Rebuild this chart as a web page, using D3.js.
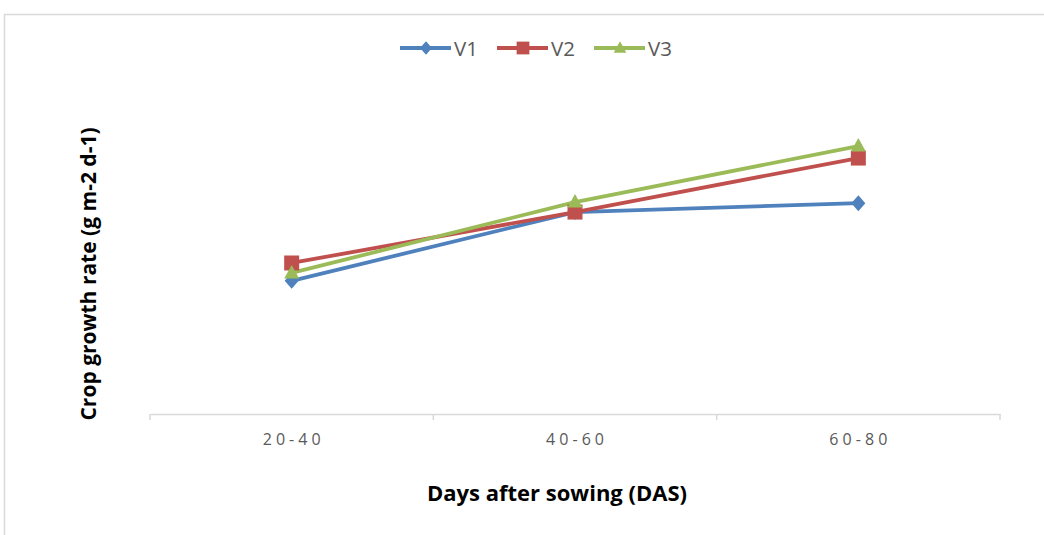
<!DOCTYPE html>
<html>
<head>
<meta charset="utf-8">
<script src="https://cdn.jsdelivr.net/npm/d3@7"></script>
<style>
  body { margin: 0; background: #fff; }
  svg { display: block; }
</style>
</head>
<body>
<div id="chart"></div>
<script>
// chart data
const categories = ["20-40", "40-60", "60-80"];
const seriesNames = ["V1", "V2", "V3"];
const v1Values = [3.87, 5.87, 6.13];
const v2Values = [4.39, 5.87, 7.44];
const v3Values = [4.10, 6.16, 7.79];
const seriesColors = ["#4F81BD", "#C0504D", "#9BBB59"];

const width = 1044, height = 535;
const margin = { top: 70, right: 44, bottom: 121, left: 150 };
const innerWidth = width - margin.left - margin.right;
const innerHeight = height - margin.top - margin.bottom;

const series = seriesNames.map((name, i) => ({
    name: name,
    color: seriesColors[i],
    values: [v1Values, v2Values, v3Values][i]
}));

const svg = d3.select("#chart").append("svg")
    .attr("width", width)
    .attr("height", height);

// chart frame (partly cut off in the original)
svg.append("path")
    .attr("d", `M4.5,${height} V14.5 H${width}`)
    .attr("fill", "none")
    .attr("stroke", "#d9d9d9")
    .attr("stroke-width", 1.5);

const g = svg.append("g")
    .attr("transform", `translate(${margin.left},${margin.top})`);

// scales
const xScale = d3.scaleBand()
    .domain(categories)
    .range([0, innerWidth]);

const yScale = d3.scaleLinear()
    .domain([0, 10])
    .range([innerHeight, 0]);

// x axis
const xAxis = d3.axisBottom(xScale).tickSize(0).tickPadding(20);
const xg = g.append("g")
    .attr("transform", `translate(0,${innerHeight})`)
    .call(xAxis);
xg.select(".domain").attr("stroke", "#d9d9d9").attr("stroke-width", 1.5);
// Excel spreads the tick label glyphs out
xg.selectAll("text")
    .attr("fill", "#595959")
    .attr("textLength", 58)
    .attr("lengthAdjust", "spacing")
    .style("font-family", "'Open Sans', sans-serif")
    .style("font-size", "16px");

// tick marks between categories
const tickPos = [0].concat(categories.map(c => xScale(c) + xScale.bandwidth()));
g.selectAll(".cat-tick")
    .data(tickPos)
    .enter().append("line")
    .attr("class", "cat-tick")
    .attr("x1", d => d).attr("x2", d => d)
    .attr("y1", innerHeight).attr("y2", innerHeight + 6)
    .attr("stroke", "#d9d9d9")
    .attr("stroke-width", 1.5);

// lines
const line = d3.line()
    .x((d, i) => xScale(categories[i]) + xScale.bandwidth() / 2)
    .y(d => yScale(d));

series.forEach(s => {
    g.append("path")
        .datum(s.values)
        .attr("fill", "none")
        .attr("stroke", s.color)
        .attr("stroke-width", 3.8)
        .attr("stroke-linejoin", "round")
        .attr("d", line);
});

// Excel-like marker shapes
const diamondType = { draw(ctx) { ctx.moveTo(0, -8); ctx.lineTo(7, 0); ctx.lineTo(0, 8); ctx.lineTo(-7, 0); ctx.closePath(); } };
const squareType = { draw(ctx) { ctx.rect(-7.5, -7.5, 15, 15); } };
const triangleType = { draw(ctx) { ctx.moveTo(0, -8); ctx.lineTo(7.5, 5.5); ctx.lineTo(-7.5, 5.5); ctx.closePath(); } };
const symbolTypes = [diamondType, squareType, triangleType];

function drawMarker(sel, i, x, y, scale) {
    sel.append("path")
        .attr("d", d3.symbol().type(symbolTypes[i])())
        .attr("transform", `translate(${x},${y}) scale(${scale || 1})`)
        .attr("fill", seriesColors[i]);
}
series.forEach((s, i) => {
    s.values.forEach((v, j) => {
        drawMarker(g, i, xScale(categories[j]) + xScale.bandwidth() / 2, yScale(v));
    });
});

// legend
const legend = svg.append("g").attr("transform", "translate(400,48)");
seriesNames.forEach((name, i) => {
    const lx = i * 97;
    legend.append("line")
        .attr("x1", lx).attr("x2", lx + 51)
        .attr("y1", 0).attr("y2", 0)
        .attr("stroke", seriesColors[i])
        .attr("stroke-width", 3.8);
    drawMarker(legend, i, lx + 26, 0, 0.85);
    legend.append("text")
        .attr("x", lx + 54)
        .attr("y", 7.5)
        .attr("fill", "#595959")
        .style("font-family", "'Open Sans', sans-serif")
        .style("font-size", "20.5px")
        .text(name);
});

// axis titles
svg.append("text")
    .attr("x", 557)
    .attr("y", 501)
    .attr("text-anchor", "middle")
    .style("font-family", "'Open Sans', sans-serif")
    .style("font-weight", "bold")
    .style("font-size", "22px")
    .text("Days after sowing (DAS)");

svg.append("text")
    .attr("transform", "translate(96,274) rotate(-90)")
    .attr("text-anchor", "middle")
    .style("font-family", "'Open Sans', sans-serif")
    .style("font-weight", "bold")
    .style("font-size", "21px")
    .text("Crop growth rate (g m-2 d-1)");
</script>
</body>
</html>
